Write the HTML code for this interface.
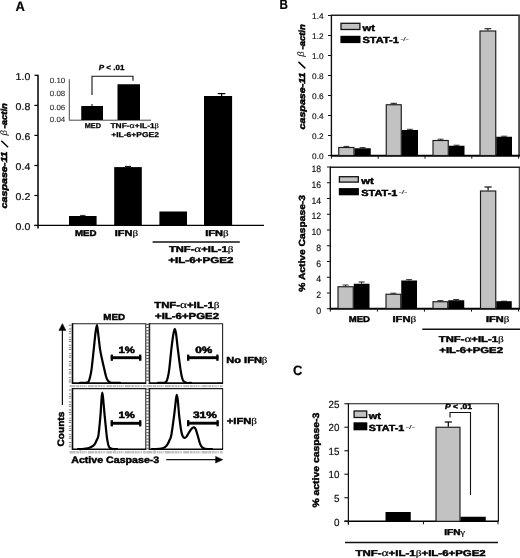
<!DOCTYPE html>
<html><head><meta charset="utf-8"><title>Figure</title>
<style>
html,body{margin:0;padding:0;background:#fff;}
body{width:520px;height:558px;overflow:hidden;}
svg{display:block;font-family:"Liberation Sans",sans-serif;will-change:transform;transform:translateZ(0);text-rendering:geometricPrecision;}
svg text{font-family:"Liberation Sans",sans-serif;}
svg tspan.g{font-family:"Liberation Serif",serif;}
</style></head><body>
<svg width="520" height="558" viewBox="0 0 520 558">
<rect x="0" y="0" width="520" height="558" fill="#ffffff"/>
<!-- Panel A -->
<text x="15.60" y="10.60" font-size="13.60" font-weight="bold" font-style="normal" fill="#000" stroke="#000" stroke-width="0.20" textLength="9.40" lengthAdjust="spacingAndGlyphs" >A</text>
<line x1="38.00" y1="74.80" x2="38.00" y2="228.60" stroke="#000" stroke-width="1.50" />
<line x1="34.40" y1="225.40" x2="264.00" y2="225.40" stroke="#000" stroke-width="1.40" />
<line x1="34.40" y1="75.30" x2="38.00" y2="75.30" stroke="#000" stroke-width="1.20" />
<text x="15.60" y="80.00" font-size="9.90" font-weight="normal" font-style="normal" fill="#111" stroke="#111" stroke-width="0.22" textLength="14.70" lengthAdjust="spacingAndGlyphs" >1.0</text>
<line x1="34.40" y1="105.40" x2="38.00" y2="105.40" stroke="#000" stroke-width="1.20" />
<text x="15.60" y="110.10" font-size="9.90" font-weight="normal" font-style="normal" fill="#111" stroke="#111" stroke-width="0.22" textLength="14.70" lengthAdjust="spacingAndGlyphs" >0.8</text>
<line x1="34.40" y1="135.40" x2="38.00" y2="135.40" stroke="#000" stroke-width="1.20" />
<text x="15.60" y="140.10" font-size="9.90" font-weight="normal" font-style="normal" fill="#111" stroke="#111" stroke-width="0.22" textLength="14.70" lengthAdjust="spacingAndGlyphs" >0.6</text>
<line x1="34.40" y1="165.50" x2="38.00" y2="165.50" stroke="#000" stroke-width="1.20" />
<text x="15.60" y="170.20" font-size="9.90" font-weight="normal" font-style="normal" fill="#111" stroke="#111" stroke-width="0.22" textLength="14.70" lengthAdjust="spacingAndGlyphs" >0.4</text>
<line x1="34.40" y1="195.50" x2="38.00" y2="195.50" stroke="#000" stroke-width="1.20" />
<text x="15.60" y="200.20" font-size="9.90" font-weight="normal" font-style="normal" fill="#111" stroke="#111" stroke-width="0.22" textLength="14.70" lengthAdjust="spacingAndGlyphs" >0.2</text>
<line x1="34.40" y1="225.50" x2="38.00" y2="225.50" stroke="#000" stroke-width="1.20" />
<text x="15.60" y="230.20" font-size="9.90" font-weight="normal" font-style="normal" fill="#111" stroke="#111" stroke-width="0.22" textLength="14.70" lengthAdjust="spacingAndGlyphs" >0.0</text>
<text transform="translate(7.30 208.40) rotate(-90)" x="0" y="0" font-size="8.70" font-weight="bold" font-style="italic" fill="#000" stroke="#000" stroke-width="0.50" textLength="56.90" lengthAdjust="spacingAndGlyphs">caspase-11</text>
<line x1="8.10" y1="147.30" x2="1.30" y2="140.80" stroke="#000" stroke-width="1.50" />
<text transform="translate(7.00 135.60) rotate(-90)" font-family="Liberation Serif" font-style="italic" font-size="9.5" fill="#111">β</text>
<text transform="translate(7.30 128.40) rotate(-90)" x="0" y="0" font-size="8.70" font-weight="bold" font-style="italic" fill="#000" stroke="#000" stroke-width="0.50" textLength="25.20" lengthAdjust="spacingAndGlyphs">-actin</text>
<rect x="69.00" y="216.00" width="27.60" height="9.40" fill="#000"/>
<rect x="114.20" y="167.10" width="27.60" height="58.30" fill="#000"/>
<rect x="159.40" y="211.50" width="27.60" height="13.90" fill="#000"/>
<rect x="204.00" y="96.00" width="28.10" height="129.40" fill="#000"/>
<line x1="221.60" y1="93.50" x2="221.60" y2="96.00" stroke="#000" stroke-width="1.20" />
<line x1="217.80" y1="93.60" x2="225.30" y2="93.60" stroke="#000" stroke-width="1.20" />
<line x1="128.00" y1="166.30" x2="128.00" y2="167.10" stroke="#000" stroke-width="1.00" />
<line x1="125.00" y1="166.40" x2="131.00" y2="166.40" stroke="#000" stroke-width="1.00" />
<line x1="82.80" y1="215.30" x2="82.80" y2="216.00" stroke="#000" stroke-width="1.00" />
<line x1="80.00" y1="215.40" x2="85.60" y2="215.40" stroke="#000" stroke-width="0.80" />
<text x="75.00" y="235.70" font-size="8.50" font-weight="bold" font-style="normal" fill="#000" stroke="#000" stroke-width="0.45" textLength="21.60" lengthAdjust="spacingAndGlyphs" >MED</text>
<text x="114.70" y="235.70" font-size="8.50" font-weight="bold" font-style="normal" fill="#000" stroke="#000" stroke-width="0.45" textLength="23.30" lengthAdjust="spacingAndGlyphs" >IFN<tspan font-family="Liberation Serif" font-weight="normal" font-style="normal" stroke-width="0.15" font-size="100%">β</tspan></text>
<text x="205.30" y="236.00" font-size="8.50" font-weight="bold" font-style="normal" fill="#000" stroke="#000" stroke-width="0.45" textLength="23.30" lengthAdjust="spacingAndGlyphs" >IFN<tspan font-family="Liberation Serif" font-weight="normal" font-style="normal" stroke-width="0.15" font-size="100%">β</tspan></text>
<line x1="152.60" y1="242.00" x2="239.80" y2="242.00" stroke="#111" stroke-width="1.30" />
<text x="168.90" y="252.30" font-size="8.50" font-weight="bold" font-style="normal" fill="#000" stroke="#000" stroke-width="0.45" textLength="64.50" lengthAdjust="spacingAndGlyphs" >TNF-<tspan font-family="Liberation Serif" font-weight="normal" font-style="normal" stroke-width="0.15" font-size="118%">α</tspan>+IL-1<tspan font-family="Liberation Serif" font-weight="normal" font-style="normal" stroke-width="0.15" font-size="100%">β</tspan></text>
<text x="168.20" y="262.90" font-size="8.50" font-weight="bold" font-style="normal" fill="#000" stroke="#000" stroke-width="0.45" textLength="65.20" lengthAdjust="spacingAndGlyphs" >+IL-6+PGE2</text>
<line x1="69.30" y1="79.20" x2="69.30" y2="120.40" stroke="#4a4a4a" stroke-width="1.00" />
<line x1="69.30" y1="120.20" x2="151.00" y2="120.20" stroke="#4a4a4a" stroke-width="1.00" />
<text x="49.80" y="82.80" font-size="7.60" font-weight="normal" font-style="normal" fill="#2a2a2a" stroke="#2a2a2a" stroke-width="0.10" textLength="15.40" lengthAdjust="spacingAndGlyphs" >0.10</text>
<text x="49.80" y="96.05" font-size="7.60" font-weight="normal" font-style="normal" fill="#2a2a2a" stroke="#2a2a2a" stroke-width="0.10" textLength="15.40" lengthAdjust="spacingAndGlyphs" >0.08</text>
<text x="49.80" y="109.55" font-size="7.60" font-weight="normal" font-style="normal" fill="#2a2a2a" stroke="#2a2a2a" stroke-width="0.10" textLength="15.40" lengthAdjust="spacingAndGlyphs" >0.06</text>
<text x="49.80" y="122.30" font-size="7.60" font-weight="normal" font-style="normal" fill="#2a2a2a" stroke="#2a2a2a" stroke-width="0.10" textLength="15.40" lengthAdjust="spacingAndGlyphs" >0.04</text>
<rect x="81.25" y="106.00" width="21.75" height="14.00" fill="#000"/>
<rect x="117.50" y="84.25" width="22.50" height="35.75" fill="#000"/>
<line x1="92.00" y1="104.00" x2="92.00" y2="106.00" stroke="#000" stroke-width="1.00" />
<path d="M92,95 L92,76.2 L133,76.2 L133,80.8" fill="none" stroke="#111" stroke-width="1.10" />
<text x="98.75" y="70.30" font-size="7.40" font-weight="bold" font-style="normal" fill="#000" stroke="#000" stroke-width="0.30" textLength="25.75" lengthAdjust="spacingAndGlyphs" ><tspan font-style="italic">P</tspan> &lt; .01</text>
<text x="84.70" y="128.20" font-size="7.00" font-weight="bold" font-style="normal" fill="#000" stroke="#000" stroke-width="0.25" textLength="16.30" lengthAdjust="spacingAndGlyphs" >MED</text>
<text x="110.50" y="128.20" font-size="7.00" font-weight="bold" font-style="normal" fill="#000" stroke="#000" stroke-width="0.25" textLength="48.40" lengthAdjust="spacingAndGlyphs" >TNF-<tspan font-family="Liberation Serif" font-weight="normal" font-style="normal" stroke-width="0.15" font-size="118%">α</tspan>+IL-1<tspan font-family="Liberation Serif" font-weight="normal" font-style="normal" stroke-width="0.15" font-size="100%">β</tspan></text>
<text x="111.20" y="137.10" font-size="7.00" font-weight="bold" font-style="normal" fill="#000" stroke="#000" stroke-width="0.25" textLength="47.70" lengthAdjust="spacingAndGlyphs" >+IL-6+PGE2</text>
<!-- Flow -->
<path d="M72.50,323.80 L145.80,323.80 L145.80,383.10" fill="none" stroke="#222" stroke-width="1.10" />
<path d="M72.50,323.30 L72.50,383.10 L146.30,383.10" fill="none" stroke="#080808" stroke-width="1.60" />
<line x1="70.10" y1="324.80" x2="70.10" y2="383.10" stroke="#777" stroke-width="2.60" stroke-dasharray="0.9 2.9 0.9 1.5 0.9 1.0"/>
<line x1="69.50" y1="386.10" x2="145.80" y2="386.10" stroke="#c0c0c0" stroke-width="2.40" stroke-dasharray="6 0.6 3 0.6 2 0.5 1.5 0.5 1.1 0.5 0.9 1.2"/>
<path d="M72.50,388.60 L145.80,388.60 L145.80,449.30" fill="none" stroke="#222" stroke-width="1.10" />
<path d="M72.50,388.10 L72.50,449.30 L146.30,449.30" fill="none" stroke="#080808" stroke-width="1.60" />
<line x1="70.10" y1="389.60" x2="70.10" y2="449.30" stroke="#777" stroke-width="2.60" stroke-dasharray="0.9 2.9 0.9 1.5 0.9 1.0"/>
<line x1="69.50" y1="452.30" x2="145.80" y2="452.30" stroke="#c0c0c0" stroke-width="2.40" stroke-dasharray="6 0.6 3 0.6 2 0.5 1.5 0.5 1.1 0.5 0.9 1.2"/>
<path d="M149.40,323.80 L222.60,323.80 L222.60,383.10" fill="none" stroke="#222" stroke-width="1.10" />
<path d="M149.40,323.30 L149.40,383.10 L223.10,383.10" fill="none" stroke="#080808" stroke-width="1.60" />
<rect x="146.20" y="323.80" width="3.20" height="59.30" fill="#555"/>
<line x1="147.50" y1="325.00" x2="147.50" y2="383.10" stroke="#fff" stroke-width="2.10" stroke-dasharray="2.1 1.0"/>
<line x1="146.40" y1="386.10" x2="222.60" y2="386.10" stroke="#c0c0c0" stroke-width="2.40" stroke-dasharray="6 0.6 3 0.6 2 0.5 1.5 0.5 1.1 0.5 0.9 1.2"/>
<path d="M149.40,388.60 L222.60,388.60 L222.60,449.30" fill="none" stroke="#222" stroke-width="1.10" />
<path d="M149.40,388.10 L149.40,449.30 L223.10,449.30" fill="none" stroke="#080808" stroke-width="1.60" />
<rect x="146.20" y="388.60" width="3.20" height="60.70" fill="#555"/>
<line x1="147.50" y1="389.80" x2="147.50" y2="449.30" stroke="#fff" stroke-width="2.10" stroke-dasharray="2.1 1.0"/>
<line x1="146.40" y1="452.30" x2="222.60" y2="452.30" stroke="#c0c0c0" stroke-width="2.40" stroke-dasharray="6 0.6 3 0.6 2 0.5 1.5 0.5 1.1 0.5 0.9 1.2"/>
<path d="M80.00,382.90 C80.67,382.90 82.62,383.03 84.00,382.90 C85.38,382.77 87.27,383.17 88.30,382.10 C89.33,381.03 89.65,378.72 90.20,376.50 C90.75,374.28 91.00,373.42 91.60,368.80 C92.20,364.18 93.13,354.93 93.80,348.80 C94.47,342.67 95.08,335.93 95.60,332.00 C96.12,328.07 96.50,325.20 96.90,325.20 C97.30,325.20 97.48,328.07 98.00,332.00 C98.52,335.93 99.30,344.13 100.00,348.80 C100.70,353.47 101.50,356.67 102.20,360.00 C102.90,363.33 103.53,365.97 104.20,368.80 C104.87,371.63 105.57,375.00 106.20,377.00 C106.83,379.00 107.20,379.85 108.00,380.80 C108.80,381.75 109.67,382.35 111.00,382.70 C112.33,383.05 114.50,382.87 116.00,382.90 C117.50,382.93 119.33,382.90 120.00,382.90" fill="none" stroke="#000" stroke-width="2.20" stroke-linejoin="round" stroke-linecap="round"/>
<path d="M158.00,382.90 C158.83,382.90 161.67,383.03 163.00,382.90 C164.33,382.77 165.20,383.00 166.00,382.10 C166.80,381.20 167.25,379.72 167.80,377.50 C168.35,375.28 168.70,373.58 169.30,368.80 C169.90,364.02 170.72,354.60 171.40,348.80 C172.08,343.00 172.83,337.33 173.40,334.00 C173.97,330.67 174.35,328.80 174.80,328.80 C175.25,328.80 175.60,330.67 176.10,334.00 C176.60,337.33 177.08,343.00 177.80,348.80 C178.52,354.60 179.67,363.90 180.40,368.80 C181.13,373.70 181.60,376.07 182.20,378.20 C182.80,380.33 183.28,380.82 184.00,381.60 C184.72,382.38 185.33,382.68 186.50,382.90 C187.67,383.12 190.25,382.90 191.00,382.90" fill="none" stroke="#000" stroke-width="2.20" stroke-linejoin="round" stroke-linecap="round"/>
<path d="M78.00,449.00 C78.67,449.00 80.38,449.10 82.00,449.00 C83.62,448.90 86.12,448.77 87.70,448.40 C89.28,448.03 90.35,447.48 91.50,446.80 C92.65,446.12 93.68,445.52 94.60,444.30 C95.52,443.08 96.35,441.08 97.00,439.50 C97.65,437.92 97.92,438.92 98.50,434.80 C99.08,430.68 99.98,420.93 100.50,414.80 C101.02,408.67 101.30,401.70 101.60,398.00 C101.90,394.30 102.05,392.60 102.30,392.60 C102.55,392.60 102.72,394.30 103.10,398.00 C103.48,401.70 104.02,408.67 104.60,414.80 C105.18,420.93 106.10,430.35 106.60,434.80 C107.10,439.25 107.27,439.67 107.60,441.50 C107.93,443.33 108.17,444.68 108.60,445.80 C109.03,446.92 109.47,447.67 110.20,448.20 C110.93,448.73 111.87,448.87 113.00,449.00 C114.13,449.13 116.33,449.00 117.00,449.00" fill="none" stroke="#000" stroke-width="2.20" stroke-linejoin="round" stroke-linecap="round"/>
<path d="M152.00,449.00 C152.67,449.00 154.43,449.08 156.00,449.00 C157.57,448.92 159.90,448.80 161.40,448.50 C162.90,448.20 163.98,447.88 165.00,447.20 C166.02,446.52 166.73,445.60 167.50,444.40 C168.27,443.20 168.95,441.60 169.60,440.00 C170.25,438.40 170.63,439.00 171.40,434.80 C172.17,430.60 173.45,420.60 174.20,414.80 C174.95,409.00 175.47,403.33 175.90,400.00 C176.33,396.67 176.48,394.80 176.80,394.80 C177.12,394.80 177.42,396.67 177.80,400.00 C178.18,403.33 178.55,409.77 179.10,414.80 C179.65,419.83 180.52,426.67 181.10,430.20 C181.68,433.73 182.03,434.72 182.60,436.00 C183.17,437.28 183.85,437.80 184.50,437.90 C185.15,438.00 185.82,437.38 186.50,436.60 C187.18,435.82 187.92,434.30 188.60,433.20 C189.28,432.10 189.97,430.88 190.60,430.00 C191.23,429.12 191.83,428.33 192.40,427.90 C192.97,427.47 193.47,427.22 194.00,427.40 C194.53,427.58 195.02,427.77 195.60,429.00 C196.18,430.23 196.73,432.27 197.50,434.80 C198.27,437.33 199.40,442.10 200.20,444.20 C201.00,446.30 201.47,446.63 202.30,447.40 C203.13,448.17 204.08,448.53 205.20,448.80 C206.32,449.07 207.87,448.97 209.00,449.00 C210.13,449.03 211.50,449.00 212.00,449.00" fill="none" stroke="#000" stroke-width="2.20" stroke-linejoin="round" stroke-linecap="round"/>
<line x1="110.80" y1="357.70" x2="141.20" y2="357.70" stroke="#000" stroke-width="2.90" />
<line x1="111.80" y1="354.60" x2="111.80" y2="360.80" stroke="#000" stroke-width="2.30" />
<line x1="140.20" y1="354.60" x2="140.20" y2="360.80" stroke="#000" stroke-width="2.30" />
<line x1="187.20" y1="357.70" x2="218.40" y2="357.70" stroke="#000" stroke-width="2.90" />
<line x1="188.20" y1="354.60" x2="188.20" y2="360.80" stroke="#000" stroke-width="2.30" />
<line x1="217.40" y1="354.60" x2="217.40" y2="360.80" stroke="#000" stroke-width="2.30" />
<line x1="110.80" y1="423.30" x2="141.20" y2="423.30" stroke="#000" stroke-width="2.90" />
<line x1="111.80" y1="420.20" x2="111.80" y2="426.40" stroke="#000" stroke-width="2.30" />
<line x1="140.20" y1="420.20" x2="140.20" y2="426.40" stroke="#000" stroke-width="2.30" />
<line x1="187.20" y1="423.20" x2="218.60" y2="423.20" stroke="#000" stroke-width="2.90" />
<line x1="188.20" y1="420.10" x2="188.20" y2="426.30" stroke="#000" stroke-width="2.30" />
<line x1="217.60" y1="420.10" x2="217.60" y2="426.30" stroke="#000" stroke-width="2.30" />
<text x="118.40" y="353.10" font-size="9.20" font-weight="bold" font-style="normal" fill="#000" stroke="#000" stroke-width="0.50" textLength="16.40" lengthAdjust="spacingAndGlyphs" >1%</text>
<text x="195.20" y="353.10" font-size="9.20" font-weight="bold" font-style="normal" fill="#000" stroke="#000" stroke-width="0.50" textLength="17.10" lengthAdjust="spacingAndGlyphs" >0%</text>
<text x="118.40" y="418.00" font-size="9.20" font-weight="bold" font-style="normal" fill="#000" stroke="#000" stroke-width="0.50" textLength="16.40" lengthAdjust="spacingAndGlyphs" >1%</text>
<text x="192.90" y="418.00" font-size="9.20" font-weight="bold" font-style="normal" fill="#000" stroke="#000" stroke-width="0.50" textLength="23.90" lengthAdjust="spacingAndGlyphs" >31%</text>
<text x="103.25" y="320.30" font-size="8.80" font-weight="bold" font-style="normal" fill="#000" stroke="#000" stroke-width="0.45" textLength="21.75" lengthAdjust="spacingAndGlyphs" >MED</text>
<text x="154.25" y="307.80" font-size="8.80" font-weight="bold" font-style="normal" fill="#000" stroke="#000" stroke-width="0.45" textLength="65.25" lengthAdjust="spacingAndGlyphs" >TNF-<tspan font-family="Liberation Serif" font-weight="normal" font-style="normal" stroke-width="0.15" font-size="118%">α</tspan>+IL-1<tspan font-family="Liberation Serif" font-weight="normal" font-style="normal" stroke-width="0.15" font-size="100%">β</tspan></text>
<text x="155.00" y="318.60" font-size="8.80" font-weight="bold" font-style="normal" fill="#000" stroke="#000" stroke-width="0.45" textLength="64.00" lengthAdjust="spacingAndGlyphs" >+IL-6+PGE2</text>
<text x="226.25" y="363.00" font-size="8.80" font-weight="bold" font-style="normal" fill="#000" stroke="#000" stroke-width="0.45" textLength="41.25" lengthAdjust="spacingAndGlyphs" >No IFN<tspan font-family="Liberation Serif" font-weight="normal" font-style="normal" stroke-width="0.15" font-size="100%">β</tspan></text>
<text x="226.75" y="423.80" font-size="8.80" font-weight="bold" font-style="normal" fill="#000" stroke="#000" stroke-width="0.45" textLength="30.25" lengthAdjust="spacingAndGlyphs" >+IFN<tspan font-family="Liberation Serif" font-weight="normal" font-style="normal" stroke-width="0.15" font-size="100%">β</tspan></text>
<line x1="62.40" y1="329.00" x2="62.40" y2="405.00" stroke="#111" stroke-width="1.20" />
<path d="M62.4,323.6 L58.9,330.4 L65.9,330.4 Z" fill="#000" stroke="#000" stroke-width="0.50" />
<text transform="translate(64.30 446.40) rotate(-90)" x="0" y="0" font-size="9.40" font-weight="bold" font-style="normal" fill="#000" stroke="#000" stroke-width="0.45" textLength="34.70" lengthAdjust="spacingAndGlyphs">Counts</text>
<text x="71.25" y="462.80" font-size="9.40" font-weight="bold" font-style="normal" fill="#000" stroke="#000" stroke-width="0.45" textLength="88.00" lengthAdjust="spacingAndGlyphs" >Active Caspase-3</text>
<line x1="166.25" y1="459.70" x2="217.00" y2="459.70" stroke="#111" stroke-width="1.20" />
<path d="M222.8,459.7 L215.6,456.4 L215.6,463.0 Z" fill="#000" stroke="#000" stroke-width="0.50" />
<!-- Panel B -->
<text x="279.60" y="9.40" font-size="13.60" font-weight="bold" font-style="normal" fill="#000" stroke="#000" stroke-width="0.20" textLength="8.40" lengthAdjust="spacingAndGlyphs" >B</text>
<line x1="331.40" y1="15.30" x2="520.00" y2="15.30" stroke="#222" stroke-width="1.40" />
<line x1="519.10" y1="15.30" x2="519.10" y2="155.50" stroke="#4a4a4a" stroke-width="1.90" />
<line x1="331.40" y1="14.70" x2="331.40" y2="155.50" stroke="#111" stroke-width="1.40" />
<line x1="330.80" y1="155.80" x2="520.00" y2="155.80" stroke="#000" stroke-width="2.00" />
<line x1="328.00" y1="15.50" x2="331.40" y2="15.50" stroke="#111" stroke-width="1.00" />
<line x1="328.00" y1="35.50" x2="331.40" y2="35.50" stroke="#111" stroke-width="1.00" />
<line x1="328.00" y1="55.50" x2="331.40" y2="55.50" stroke="#111" stroke-width="1.00" />
<line x1="328.00" y1="75.50" x2="331.40" y2="75.50" stroke="#111" stroke-width="1.00" />
<line x1="328.00" y1="95.50" x2="331.40" y2="95.50" stroke="#111" stroke-width="1.00" />
<line x1="328.00" y1="115.50" x2="331.40" y2="115.50" stroke="#111" stroke-width="1.00" />
<line x1="328.00" y1="135.50" x2="331.40" y2="135.50" stroke="#111" stroke-width="1.00" />
<line x1="328.00" y1="155.50" x2="331.40" y2="155.50" stroke="#111" stroke-width="1.00" />
<line x1="331.40" y1="155.50" x2="331.40" y2="158.70" stroke="#111" stroke-width="1.00" />
<line x1="378.20" y1="155.50" x2="378.20" y2="158.70" stroke="#111" stroke-width="1.00" />
<line x1="425.00" y1="155.50" x2="425.00" y2="158.70" stroke="#111" stroke-width="1.00" />
<line x1="471.80" y1="155.50" x2="471.80" y2="158.70" stroke="#111" stroke-width="1.00" />
<line x1="518.60" y1="155.50" x2="518.60" y2="158.70" stroke="#111" stroke-width="1.00" />
<text x="312.10" y="19.10" font-size="8.20" font-weight="normal" font-style="normal" fill="#111" stroke="#111" stroke-width="0.15" textLength="11.50" lengthAdjust="spacingAndGlyphs" >1.4</text>
<text x="312.10" y="39.10" font-size="8.20" font-weight="normal" font-style="normal" fill="#111" stroke="#111" stroke-width="0.15" textLength="11.50" lengthAdjust="spacingAndGlyphs" >1.2</text>
<text x="312.10" y="59.10" font-size="8.20" font-weight="normal" font-style="normal" fill="#111" stroke="#111" stroke-width="0.15" textLength="11.50" lengthAdjust="spacingAndGlyphs" >1.0</text>
<text x="312.10" y="79.10" font-size="8.20" font-weight="normal" font-style="normal" fill="#111" stroke="#111" stroke-width="0.15" textLength="11.50" lengthAdjust="spacingAndGlyphs" >0.8</text>
<text x="312.10" y="99.10" font-size="8.20" font-weight="normal" font-style="normal" fill="#111" stroke="#111" stroke-width="0.15" textLength="11.50" lengthAdjust="spacingAndGlyphs" >0.6</text>
<text x="312.10" y="119.10" font-size="8.20" font-weight="normal" font-style="normal" fill="#111" stroke="#111" stroke-width="0.15" textLength="11.50" lengthAdjust="spacingAndGlyphs" >0.4</text>
<text x="312.10" y="139.10" font-size="8.20" font-weight="normal" font-style="normal" fill="#111" stroke="#111" stroke-width="0.15" textLength="11.50" lengthAdjust="spacingAndGlyphs" >0.2</text>
<text x="312.10" y="159.10" font-size="8.20" font-weight="normal" font-style="normal" fill="#111" stroke="#111" stroke-width="0.15" textLength="11.50" lengthAdjust="spacingAndGlyphs" >0.0</text>
<line x1="330.30" y1="167.20" x2="520.00" y2="167.20" stroke="#222" stroke-width="1.40" />
<line x1="519.30" y1="167.20" x2="519.30" y2="308.40" stroke="#222" stroke-width="1.10" />
<line x1="330.30" y1="166.60" x2="330.30" y2="308.40" stroke="#111" stroke-width="1.40" />
<line x1="329.70" y1="308.70" x2="520.00" y2="308.70" stroke="#000" stroke-width="2.00" />
<line x1="326.90" y1="167.00" x2="330.30" y2="167.00" stroke="#111" stroke-width="1.00" />
<line x1="326.90" y1="182.75" x2="330.30" y2="182.75" stroke="#111" stroke-width="1.00" />
<line x1="326.90" y1="198.50" x2="330.30" y2="198.50" stroke="#111" stroke-width="1.00" />
<line x1="326.90" y1="214.25" x2="330.30" y2="214.25" stroke="#111" stroke-width="1.00" />
<line x1="326.90" y1="230.00" x2="330.30" y2="230.00" stroke="#111" stroke-width="1.00" />
<line x1="326.90" y1="245.75" x2="330.30" y2="245.75" stroke="#111" stroke-width="1.00" />
<line x1="326.90" y1="261.50" x2="330.30" y2="261.50" stroke="#111" stroke-width="1.00" />
<line x1="326.90" y1="277.25" x2="330.30" y2="277.25" stroke="#111" stroke-width="1.00" />
<line x1="326.90" y1="293.00" x2="330.30" y2="293.00" stroke="#111" stroke-width="1.00" />
<line x1="326.90" y1="308.75" x2="330.30" y2="308.75" stroke="#111" stroke-width="1.00" />
<line x1="330.30" y1="308.40" x2="330.30" y2="311.60" stroke="#111" stroke-width="1.00" />
<line x1="377.38" y1="308.40" x2="377.38" y2="311.60" stroke="#111" stroke-width="1.00" />
<line x1="424.45" y1="308.40" x2="424.45" y2="311.60" stroke="#111" stroke-width="1.00" />
<line x1="471.53" y1="308.40" x2="471.53" y2="311.60" stroke="#111" stroke-width="1.00" />
<line x1="518.60" y1="308.40" x2="518.60" y2="311.60" stroke="#111" stroke-width="1.00" />
<text x="311.50" y="172.00" font-size="9.20" font-weight="normal" font-style="normal" fill="#111" stroke="#111" stroke-width="0.15" textLength="9.70" lengthAdjust="spacingAndGlyphs" >18</text>
<text x="311.50" y="187.75" font-size="9.20" font-weight="normal" font-style="normal" fill="#111" stroke="#111" stroke-width="0.15" textLength="9.70" lengthAdjust="spacingAndGlyphs" >16</text>
<text x="311.50" y="203.50" font-size="9.20" font-weight="normal" font-style="normal" fill="#111" stroke="#111" stroke-width="0.15" textLength="9.70" lengthAdjust="spacingAndGlyphs" >14</text>
<text x="311.50" y="219.25" font-size="9.20" font-weight="normal" font-style="normal" fill="#111" stroke="#111" stroke-width="0.15" textLength="9.70" lengthAdjust="spacingAndGlyphs" >12</text>
<text x="311.50" y="235.00" font-size="9.20" font-weight="normal" font-style="normal" fill="#111" stroke="#111" stroke-width="0.15" textLength="9.70" lengthAdjust="spacingAndGlyphs" >10</text>
<text x="316.30" y="250.75" font-size="9.20" font-weight="normal" font-style="normal" fill="#111" stroke="#111" stroke-width="0.15" textLength="4.90" lengthAdjust="spacingAndGlyphs" >8</text>
<text x="316.30" y="266.50" font-size="9.20" font-weight="normal" font-style="normal" fill="#111" stroke="#111" stroke-width="0.15" textLength="4.90" lengthAdjust="spacingAndGlyphs" >6</text>
<text x="316.30" y="282.25" font-size="9.20" font-weight="normal" font-style="normal" fill="#111" stroke="#111" stroke-width="0.15" textLength="4.90" lengthAdjust="spacingAndGlyphs" >4</text>
<text x="316.30" y="298.00" font-size="9.20" font-weight="normal" font-style="normal" fill="#111" stroke="#111" stroke-width="0.15" textLength="4.90" lengthAdjust="spacingAndGlyphs" >2</text>
<text x="316.30" y="313.75" font-size="9.20" font-weight="normal" font-style="normal" fill="#111" stroke="#111" stroke-width="0.15" textLength="4.90" lengthAdjust="spacingAndGlyphs" >0</text>
<rect x="338.75" y="147.50" width="15.25" height="8.00" fill="#c2c2c2" stroke="#1a1a1a" stroke-width="1.15"/>
<rect x="354.50" y="148.25" width="16.25" height="7.25" fill="#000"/>
<rect x="386.25" y="104.75" width="15.00" height="50.75" fill="#c2c2c2" stroke="#1a1a1a" stroke-width="1.15"/>
<rect x="401.75" y="130.00" width="16.25" height="25.50" fill="#000"/>
<rect x="433.00" y="140.50" width="15.25" height="15.00" fill="#c2c2c2" stroke="#1a1a1a" stroke-width="1.15"/>
<rect x="448.75" y="145.75" width="15.75" height="9.75" fill="#000"/>
<rect x="480.00" y="31.00" width="15.75" height="124.50" fill="#c2c2c2" stroke="#1a1a1a" stroke-width="1.15"/>
<rect x="496.25" y="136.75" width="15.75" height="18.75" fill="#000"/>
<line x1="346.40" y1="147.00" x2="346.40" y2="146.40" stroke="#000" stroke-width="0.80" />
<line x1="343.40" y1="146.40" x2="349.40" y2="146.40" stroke="#000" stroke-width="0.80" />
<line x1="362.60" y1="148.25" x2="362.60" y2="147.60" stroke="#000" stroke-width="0.80" />
<line x1="359.60" y1="147.60" x2="365.60" y2="147.60" stroke="#000" stroke-width="0.80" />
<line x1="393.70" y1="104.25" x2="393.70" y2="103.30" stroke="#000" stroke-width="0.90" />
<line x1="390.50" y1="103.30" x2="396.90" y2="103.30" stroke="#000" stroke-width="0.90" />
<line x1="409.90" y1="130.00" x2="409.90" y2="129.30" stroke="#000" stroke-width="0.80" />
<line x1="406.90" y1="129.30" x2="412.90" y2="129.30" stroke="#000" stroke-width="0.80" />
<line x1="440.60" y1="140.00" x2="440.60" y2="139.20" stroke="#000" stroke-width="0.80" />
<line x1="437.60" y1="139.20" x2="443.60" y2="139.20" stroke="#000" stroke-width="0.80" />
<line x1="456.60" y1="145.75" x2="456.60" y2="145.20" stroke="#000" stroke-width="0.80" />
<line x1="453.60" y1="145.20" x2="459.60" y2="145.20" stroke="#000" stroke-width="0.80" />
<line x1="487.90" y1="30.50" x2="487.90" y2="28.75" stroke="#000" stroke-width="1.00" />
<line x1="484.50" y1="28.75" x2="491.30" y2="28.75" stroke="#000" stroke-width="1.00" />
<line x1="504.10" y1="136.75" x2="504.10" y2="136.20" stroke="#000" stroke-width="0.80" />
<line x1="501.10" y1="136.20" x2="507.10" y2="136.20" stroke="#000" stroke-width="0.80" />
<rect x="341.00" y="23.30" width="18.90" height="6.20" fill="#c2c2c2" stroke="#111" stroke-width="1.30"/>
<text x="362.50" y="30.60" font-size="9.10" font-weight="bold" font-style="normal" fill="#000" stroke="#000" stroke-width="0.45" textLength="12.50" lengthAdjust="spacingAndGlyphs" >wt</text>
<rect x="340.40" y="35.80" width="20.10" height="7.30" fill="#000"/>
<text x="362.50" y="42.90" font-size="8.90" font-weight="bold" font-style="normal" fill="#000" stroke="#000" stroke-width="0.45" textLength="36.30" lengthAdjust="spacingAndGlyphs" >STAT-1</text>
<text x="400.40" y="41.00" font-size="5.60" font-weight="normal" font-style="normal" fill="#222" stroke="#222" stroke-width="0.12" textLength="8.40" lengthAdjust="spacingAndGlyphs" >-/-</text>
<text transform="translate(304.50 129.50) rotate(-90)" x="0" y="0" font-size="8.70" font-weight="bold" font-style="italic" fill="#000" stroke="#000" stroke-width="0.50" textLength="56.90" lengthAdjust="spacingAndGlyphs">caspase-11</text>
<line x1="305.30" y1="68.40" x2="298.50" y2="61.90" stroke="#000" stroke-width="1.50" />
<text transform="translate(304.20 56.70) rotate(-90)" font-family="Liberation Serif" font-style="italic" font-size="9.5" fill="#111">β</text>
<text transform="translate(304.50 49.50) rotate(-90)" x="0" y="0" font-size="8.70" font-weight="bold" font-style="italic" fill="#000" stroke="#000" stroke-width="0.50" textLength="25.20" lengthAdjust="spacingAndGlyphs">-actin</text>
<rect x="338.00" y="286.75" width="15.25" height="21.75" fill="#c2c2c2" stroke="#1a1a1a" stroke-width="1.15"/>
<rect x="353.75" y="283.75" width="15.75" height="24.75" fill="#000"/>
<rect x="386.00" y="294.25" width="14.75" height="14.25" fill="#c2c2c2" stroke="#1a1a1a" stroke-width="1.15"/>
<rect x="401.25" y="280.50" width="15.75" height="28.00" fill="#000"/>
<rect x="433.00" y="301.75" width="14.75" height="6.75" fill="#c2c2c2" stroke="#1a1a1a" stroke-width="1.15"/>
<rect x="448.25" y="300.25" width="16.00" height="8.25" fill="#000"/>
<rect x="480.50" y="191.00" width="15.25" height="117.50" fill="#c2c2c2" stroke="#1a1a1a" stroke-width="1.15"/>
<rect x="496.25" y="301.20" width="15.50" height="7.30" fill="#000"/>
<line x1="345.60" y1="286.25" x2="345.60" y2="285.00" stroke="#000" stroke-width="0.80" />
<line x1="342.60" y1="285.00" x2="348.60" y2="285.00" stroke="#000" stroke-width="0.80" />
<line x1="361.60" y1="283.75" x2="361.60" y2="282.00" stroke="#000" stroke-width="0.90" />
<line x1="358.60" y1="282.00" x2="364.60" y2="282.00" stroke="#000" stroke-width="0.90" />
<line x1="393.40" y1="293.75" x2="393.40" y2="293.20" stroke="#000" stroke-width="0.80" />
<line x1="390.40" y1="293.20" x2="396.40" y2="293.20" stroke="#000" stroke-width="0.80" />
<line x1="409.10" y1="280.50" x2="409.10" y2="279.60" stroke="#000" stroke-width="0.80" />
<line x1="406.10" y1="279.60" x2="412.10" y2="279.60" stroke="#000" stroke-width="0.80" />
<line x1="440.40" y1="301.25" x2="440.40" y2="300.60" stroke="#000" stroke-width="0.80" />
<line x1="437.40" y1="300.60" x2="443.40" y2="300.60" stroke="#000" stroke-width="0.80" />
<line x1="456.20" y1="300.25" x2="456.20" y2="299.50" stroke="#000" stroke-width="0.80" />
<line x1="453.20" y1="299.50" x2="459.20" y2="299.50" stroke="#000" stroke-width="0.80" />
<line x1="488.10" y1="190.50" x2="488.10" y2="187.00" stroke="#000" stroke-width="1.10" />
<line x1="484.50" y1="187.00" x2="491.70" y2="187.00" stroke="#000" stroke-width="1.10" />
<line x1="504.00" y1="301.75" x2="504.00" y2="301.20" stroke="#000" stroke-width="0.80" />
<line x1="501.00" y1="301.20" x2="507.00" y2="301.20" stroke="#000" stroke-width="0.80" />
<rect x="339.40" y="176.70" width="18.90" height="5.40" fill="#c2c2c2" stroke="#111" stroke-width="1.30"/>
<text x="361.25" y="183.60" font-size="9.10" font-weight="bold" font-style="normal" fill="#000" stroke="#000" stroke-width="0.45" textLength="12.55" lengthAdjust="spacingAndGlyphs" >wt</text>
<rect x="338.80" y="188.10" width="20.10" height="7.20" fill="#000"/>
<text x="361.25" y="195.90" font-size="8.90" font-weight="bold" font-style="normal" fill="#000" stroke="#000" stroke-width="0.45" textLength="36.25" lengthAdjust="spacingAndGlyphs" >STAT-1</text>
<text x="398.80" y="193.90" font-size="5.60" font-weight="normal" font-style="normal" fill="#222" stroke="#222" stroke-width="0.12" textLength="8.50" lengthAdjust="spacingAndGlyphs" >-/-</text>
<text transform="translate(305.30 291.70) rotate(-90)" x="0" y="0" font-size="8.90" font-weight="bold" font-style="normal" fill="#000" stroke="#000" stroke-width="0.45" textLength="96.70" lengthAdjust="spacingAndGlyphs">% Active Caspase-3</text>
<text x="348.75" y="322.10" font-size="8.50" font-weight="bold" font-style="normal" fill="#000" stroke="#000" stroke-width="0.45" textLength="21.25" lengthAdjust="spacingAndGlyphs" >MED</text>
<text x="392.50" y="322.10" font-size="8.50" font-weight="bold" font-style="normal" fill="#000" stroke="#000" stroke-width="0.45" textLength="23.75" lengthAdjust="spacingAndGlyphs" >IFN<tspan font-family="Liberation Serif" font-weight="normal" font-style="normal" stroke-width="0.15" font-size="100%">β</tspan></text>
<text x="486.00" y="322.10" font-size="8.50" font-weight="bold" font-style="normal" fill="#000" stroke="#000" stroke-width="0.45" textLength="23.30" lengthAdjust="spacingAndGlyphs" >IFN<tspan font-family="Liberation Serif" font-weight="normal" font-style="normal" stroke-width="0.15" font-size="100%">β</tspan></text>
<line x1="422.30" y1="329.30" x2="520.00" y2="329.30" stroke="#111" stroke-width="1.40" />
<text x="438.75" y="342.10" font-size="8.50" font-weight="bold" font-style="normal" fill="#000" stroke="#000" stroke-width="0.45" textLength="65.00" lengthAdjust="spacingAndGlyphs" >TNF-<tspan font-family="Liberation Serif" font-weight="normal" font-style="normal" stroke-width="0.15" font-size="118%">α</tspan>+IL-1<tspan font-family="Liberation Serif" font-weight="normal" font-style="normal" stroke-width="0.15" font-size="100%">β</tspan></text>
<text x="439.25" y="352.70" font-size="8.50" font-weight="bold" font-style="normal" fill="#000" stroke="#000" stroke-width="0.45" textLength="63.75" lengthAdjust="spacingAndGlyphs" >+IL-6+PGE2</text>
<!-- Panel C -->
<text x="292.90" y="374.60" font-size="13.60" font-weight="bold" font-style="normal" fill="#000" stroke="#000" stroke-width="0.20" textLength="9.35" lengthAdjust="spacingAndGlyphs" >C</text>
<path d="M348.40,403.75 L498.40,403.75 L498.40,521.30" fill="none" stroke="#151515" stroke-width="1.20" />
<line x1="348.40" y1="403.25" x2="348.40" y2="524.70" stroke="#111" stroke-width="1.25" />
<line x1="344.40" y1="521.30" x2="498.50" y2="521.30" stroke="#000" stroke-width="1.40" />
<line x1="344.40" y1="403.75" x2="348.40" y2="403.75" stroke="#111" stroke-width="1.10" />
<text x="328.60" y="407.75" font-size="10.30" font-weight="normal" font-style="normal" fill="#111" stroke="#111" stroke-width="0.20" textLength="10.90" lengthAdjust="spacingAndGlyphs" >25</text>
<line x1="344.40" y1="427.25" x2="348.40" y2="427.25" stroke="#111" stroke-width="1.10" />
<text x="328.60" y="431.25" font-size="10.30" font-weight="normal" font-style="normal" fill="#111" stroke="#111" stroke-width="0.20" textLength="10.90" lengthAdjust="spacingAndGlyphs" >20</text>
<line x1="344.40" y1="450.75" x2="348.40" y2="450.75" stroke="#111" stroke-width="1.10" />
<text x="328.60" y="454.75" font-size="10.30" font-weight="normal" font-style="normal" fill="#111" stroke="#111" stroke-width="0.20" textLength="10.90" lengthAdjust="spacingAndGlyphs" >15</text>
<line x1="344.40" y1="474.25" x2="348.40" y2="474.25" stroke="#111" stroke-width="1.10" />
<text x="328.60" y="478.25" font-size="10.30" font-weight="normal" font-style="normal" fill="#111" stroke="#111" stroke-width="0.20" textLength="10.90" lengthAdjust="spacingAndGlyphs" >10</text>
<line x1="344.40" y1="497.75" x2="348.40" y2="497.75" stroke="#111" stroke-width="1.10" />
<text x="334.00" y="501.75" font-size="10.30" font-weight="normal" font-style="normal" fill="#111" stroke="#111" stroke-width="0.20" textLength="5.50" lengthAdjust="spacingAndGlyphs" >5</text>
<line x1="344.40" y1="521.25" x2="348.40" y2="521.25" stroke="#111" stroke-width="1.10" />
<text x="334.00" y="526.25" font-size="10.30" font-weight="normal" font-style="normal" fill="#111" stroke="#111" stroke-width="0.20" textLength="5.50" lengthAdjust="spacingAndGlyphs" >0</text>
<line x1="348.40" y1="521.30" x2="348.40" y2="524.30" stroke="#111" stroke-width="1.00" />
<line x1="423.40" y1="521.30" x2="423.40" y2="524.30" stroke="#111" stroke-width="1.00" />
<line x1="498.00" y1="521.30" x2="498.00" y2="524.30" stroke="#111" stroke-width="1.00" />
<rect x="385.50" y="512.00" width="25.25" height="9.30" fill="#000"/>
<rect x="436.00" y="427.25" width="24.00" height="94.05" fill="#c2c2c2" stroke="#1a1a1a" stroke-width="1.15"/>
<rect x="460.50" y="516.75" width="25.25" height="4.55" fill="#000"/>
<line x1="448.30" y1="426.75" x2="448.30" y2="422.00" stroke="#000" stroke-width="1.20" />
<line x1="444.70" y1="422.00" x2="451.90" y2="422.00" stroke="#000" stroke-width="1.20" />
<rect x="354.10" y="411.00" width="12.60" height="6.50" fill="#c2c2c2" stroke="#111" stroke-width="1.30"/>
<text x="368.75" y="418.70" font-size="9.10" font-weight="bold" font-style="normal" fill="#000" stroke="#000" stroke-width="0.45" textLength="12.25" lengthAdjust="spacingAndGlyphs" >wt</text>
<rect x="353.50" y="422.30" width="13.80" height="8.00" fill="#000"/>
<text x="368.75" y="431.40" font-size="8.90" font-weight="bold" font-style="normal" fill="#000" stroke="#000" stroke-width="0.45" textLength="35.45" lengthAdjust="spacingAndGlyphs" >STAT-1</text>
<text x="405.80" y="429.20" font-size="5.60" font-weight="normal" font-style="normal" fill="#222" stroke="#222" stroke-width="0.12" textLength="9.20" lengthAdjust="spacingAndGlyphs" >-/-</text>
<text transform="translate(318.60 507.60) rotate(-90)" x="0" y="0" font-size="9.20" font-weight="bold" font-style="normal" fill="#000" stroke="#000" stroke-width="0.45" textLength="94.80" lengthAdjust="spacingAndGlyphs">% active caspase-3</text>
<path d="M450,417.5 L450,412.5 L470.5,412.5 L470.5,495" fill="none" stroke="#111" stroke-width="1.10" />
<text x="445.00" y="408.80" font-size="7.40" font-weight="bold" font-style="normal" fill="#000" stroke="#000" stroke-width="0.45" textLength="27.00" lengthAdjust="spacingAndGlyphs" ><tspan font-style="italic">P</tspan> &lt; .01</text>
<text x="444.25" y="534.70" font-size="8.50" font-weight="bold" font-style="normal" fill="#000" stroke="#000" stroke-width="0.45" textLength="20.75" lengthAdjust="spacingAndGlyphs" >IFN<tspan font-family="Liberation Serif" font-weight="normal" font-style="normal" stroke-width="0.15" font-size="100%">γ</tspan></text>
<line x1="345.00" y1="542.50" x2="498.00" y2="542.50" stroke="#111" stroke-width="1.30" />
<text x="355.50" y="555.70" font-size="8.50" font-weight="bold" font-style="normal" fill="#000" stroke="#000" stroke-width="0.45" textLength="130.25" lengthAdjust="spacingAndGlyphs" >TNF-<tspan font-family="Liberation Serif" font-weight="normal" font-style="normal" stroke-width="0.15" font-size="118%">α</tspan>+IL-1<tspan font-family="Liberation Serif" font-weight="normal" font-style="normal" stroke-width="0.15" font-size="100%">β</tspan>+IL-6+PGE2</text>
</svg>
</body></html>
